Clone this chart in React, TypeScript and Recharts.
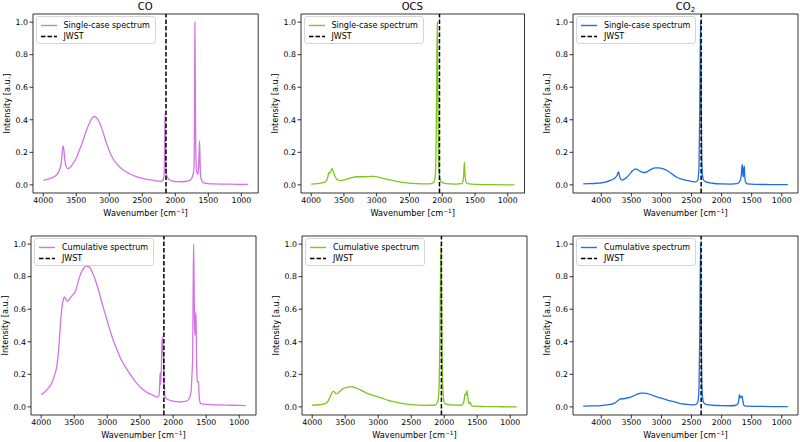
import React from 'react';
import { LineChart, Line, XAxis, YAxis, ReferenceLine, ReferenceArea, Label } from 'recharts';

const FONT = '"DejaVu Sans", sans-serif';

// wavenumber ticks and intensity ticks
const xTicks = [4000, 3500, 3000, 2500, 2000, 1500, 1000];
const yTicks = [0, 0.2, 0.4, 0.6, 0.8, 1.0];

// JWST band positions [cm-1]
const jwstCO = 2141;
const jwstOCS = 2042;
const jwstCO2 = 2340;

// CO single-case
const coSingleX = [4000, 3900, 3800, 3760, 3730, 3712, 3700, 3690, 3675, 3655, 3630, 3600, 3550, 3500, 3450, 3400, 3350, 3300, 3260, 3230, 3200, 3150, 3100, 3050, 3000, 2950, 2900, 2800, 2700, 2600, 2500, 2400, 2300, 2220, 2185, 2170, 2162, 2155, 2148, 2138, 2120, 2100, 2050, 2000, 1900, 1800, 1760, 1735, 1720, 1712, 1707, 1703, 1698, 1690, 1678, 1662, 1648, 1640, 1633, 1627, 1618, 1600, 1570, 1500, 1400, 1200, 1000, 900];
const coSingleY = [0.028, 0.038, 0.06, 0.085, 0.13, 0.2, 0.24, 0.225, 0.16, 0.115, 0.1, 0.105, 0.13, 0.165, 0.215, 0.27, 0.33, 0.38, 0.41, 0.42, 0.415, 0.385, 0.33, 0.265, 0.21, 0.165, 0.135, 0.095, 0.07, 0.052, 0.04, 0.032, 0.025, 0.022, 0.03, 0.06, 0.2, 0.44, 0.2, 0.07, 0.045, 0.035, 0.025, 0.02, 0.019, 0.024, 0.035, 0.06, 0.09, 0.25, 0.7, 1.0, 0.65, 0.2, 0.09, 0.065, 0.1, 0.2, 0.27, 0.18, 0.06, 0.025, 0.012, 0.008, 0.006, 0.004, 0.003, 0.003];

// CO cumulative
const coCumX = [4000, 3950, 3900, 3850, 3800, 3760, 3730, 3710, 3690, 3665, 3645, 3620, 3600, 3560, 3520, 3480, 3440, 3400, 3350, 3310, 3270, 3230, 3180, 3120, 3060, 3000, 2950, 2900, 2850, 2800, 2700, 2600, 2500, 2400, 2300, 2240, 2215, 2205, 2198, 2190, 2180, 2170, 2163, 2155, 2145, 2135, 2120, 2080, 2000, 1900, 1800, 1760, 1730, 1715, 1705, 1697, 1690, 1683, 1676, 1670, 1662, 1654, 1646, 1636, 1625, 1615, 1608, 1595, 1580, 1500, 1300, 1100, 900];
const coCumY = [0.075, 0.09, 0.11, 0.14, 0.19, 0.26, 0.38, 0.5, 0.6, 0.66, 0.675, 0.655, 0.65, 0.67, 0.69, 0.71, 0.77, 0.82, 0.855, 0.865, 0.86, 0.83, 0.78, 0.7, 0.61, 0.53, 0.46, 0.4, 0.35, 0.3, 0.23, 0.17, 0.12, 0.09, 0.07, 0.06, 0.07, 0.13, 0.21, 0.14, 0.22, 0.4, 0.43, 0.35, 0.28, 0.12, 0.06, 0.045, 0.035, 0.03, 0.035, 0.05, 0.09, 0.2, 0.3, 0.75, 1.0, 0.75, 0.5, 0.44, 0.52, 0.58, 0.3, 0.16, 0.15, 0.155, 0.07, 0.03, 0.02, 0.015, 0.012, 0.01, 0.008];

// OCS single-case
const ocsSingleX = [4000, 3900, 3800, 3760, 3740, 3733, 3722, 3712, 3695, 3680, 3665, 3645, 3620, 3590, 3560, 3500, 3400, 3300, 3200, 3100, 3050, 2950, 2800, 2700, 2600, 2400, 2200, 2130, 2105, 2092, 2083, 2075, 2067, 2058, 2045, 2020, 1950, 1800, 1700, 1680, 1670, 1662, 1655, 1645, 1625, 1550, 1400, 1200, 900];
const ocsSingleY = [0.005, 0.008, 0.015, 0.03, 0.06, 0.075, 0.07, 0.075, 0.09, 0.1, 0.085, 0.06, 0.04, 0.03, 0.026, 0.03, 0.042, 0.05, 0.05, 0.052, 0.052, 0.045, 0.03, 0.022, 0.015, 0.008, 0.006, 0.015, 0.06, 0.3, 0.75, 1.0, 0.6, 0.2, 0.06, 0.02, 0.008, 0.005, 0.008, 0.03, 0.08, 0.14, 0.08, 0.03, 0.01, 0.004, 0.002, 0.001, 0.0];

// OCS cumulative
const ocsCumX = [4000, 3900, 3800, 3760, 3730, 3705, 3680, 3660, 3640, 3620, 3600, 3570, 3530, 3480, 3430, 3380, 3330, 3250, 3150, 3050, 2950, 2850, 2750, 2600, 2450, 2300, 2150, 2100, 2080, 2066, 2056, 2048, 2040, 2030, 2015, 1990, 1900, 1750, 1710, 1695, 1684, 1672, 1662, 1653, 1644, 1632, 1618, 1608, 1598, 1585, 1550, 1400, 1200, 900];
const ocsCumY = [0.01, 0.013, 0.02, 0.035, 0.06, 0.085, 0.095, 0.09, 0.08, 0.082, 0.088, 0.1, 0.112, 0.12, 0.123, 0.122, 0.115, 0.1, 0.08, 0.068, 0.055, 0.04, 0.03, 0.018, 0.012, 0.009, 0.01, 0.03, 0.1, 0.4, 0.8, 1.0, 0.7, 0.3, 0.07, 0.02, 0.012, 0.01, 0.02, 0.05, 0.08, 0.07, 0.085, 0.1, 0.07, 0.03, 0.02, 0.028, 0.02, 0.008, 0.004, 0.002, 0.001, 0.0];

// CO2 single-case
const co2SingleX = [4300, 4200, 4070, 3950, 3850, 3790, 3760, 3735, 3722, 3713, 3700, 3680, 3655, 3620, 3573, 3530, 3490, 3460, 3435, 3400, 3352, 3310, 3270, 3220, 3158, 3100, 3048, 2980, 2910, 2830, 2743, 2660, 2577, 2490, 2430, 2395, 2375, 2362, 2350, 2340, 2330, 2318, 2300, 2260, 2150, 2000, 1850, 1740, 1700, 1675, 1663, 1655, 1646, 1638, 1630, 1622, 1614, 1600, 1570, 1450, 1200, 900];
const co2SingleY = [0.006, 0.007, 0.01, 0.015, 0.027, 0.038, 0.047, 0.06, 0.075, 0.08, 0.06, 0.035, 0.03, 0.035, 0.047, 0.064, 0.084, 0.093, 0.098, 0.094, 0.084, 0.077, 0.076, 0.085, 0.098, 0.104, 0.105, 0.1, 0.088, 0.068, 0.047, 0.035, 0.027, 0.02, 0.018, 0.03, 0.12, 0.5, 1.0, 0.55, 0.2, 0.06, 0.03, 0.018, 0.01, 0.006, 0.005, 0.008, 0.02, 0.05, 0.11, 0.125, 0.06, 0.05, 0.1, 0.115, 0.05, 0.015, 0.006, 0.003, 0.002, 0.001];

// CO2 cumulative
const co2CumX = [4300, 4150, 4000, 3900, 3800, 3750, 3700, 3665, 3640, 3600, 3550, 3500, 3450, 3400, 3360, 3330, 3290, 3250, 3180, 3100, 3000, 2900, 2800, 2700, 2600, 2500, 2430, 2395, 2375, 2362, 2350, 2340, 2330, 2318, 2300, 2260, 2150, 2000, 1850, 1760, 1730, 1715, 1703, 1695, 1688, 1680, 1670, 1660, 1652, 1643, 1633, 1615, 1580, 1400, 1150, 900];
const co2CumY = [0.005, 0.006, 0.008, 0.012, 0.02, 0.03, 0.045, 0.05, 0.05, 0.052, 0.056, 0.062, 0.07, 0.078, 0.083, 0.085, 0.085, 0.083, 0.075, 0.065, 0.053, 0.042, 0.032, 0.022, 0.016, 0.012, 0.014, 0.03, 0.12, 0.5, 1.0, 0.55, 0.2, 0.06, 0.028, 0.015, 0.01, 0.008, 0.007, 0.01, 0.02, 0.04, 0.075, 0.06, 0.055, 0.062, 0.06, 0.068, 0.05, 0.03, 0.012, 0.006, 0.004, 0.003, 0.002, 0.001];

const MAGENTA = '#d473e6';
const GREEN = '#80c41c';
const BLUE = '#1f6fdc';

type Pt = { w: number; v: number };
const zip = (xs: number[], ys: number[]): Pt[] => xs.map((w, i) => ({ w, v: ys[i] }));

const YW = 32;
const MT = 14;
const XH = 28;
const MR = 2;

const tickTxt = { fontSize: 7.8, fill: '#000', fontFamily: FONT };
const labTxt = { fontSize: 8.2, fill: '#000', fontFamily: FONT };

// x label with a real superscript, like matplotlib mathtext
function WaveLabel(props: any) {
  const vb = props.viewBox || { x: 0, y: 0, width: 0, height: 0 };
  const cx = vb.x + vb.width / 2;
  const y = vb.y + vb.height - 5;
  return (
    <text x={cx} y={y} textAnchor="middle" style={labTxt}>
      Wavenumber [cm
      <tspan dy={-3.3} fontSize={5.8}>−1</tspan>
      <tspan dy={3.3}>]</tspan>
    </text>
  );
}

type PanelProps = {
  l: number;
  r: number;
  t: number;
  b: number;
  title?: React.ReactNode;
  label: string;
  color: string;
  data: Pt[];
  jwst: number;
  xDomain: [number, number];
};

function Panel({ l, r, t, b, title, label, color, data, jwst, xDomain }: PanelProps) {
  const pw = r - l;
  const ph = b - t;
  return (
    <>
      {title && (
        <div
          style={{
            position: 'absolute',
            left: l,
            width: pw,
            top: t - 14,
            height: 14,
            lineHeight: '14px',
            textAlign: 'center',
            fontFamily: FONT,
            fontSize: 10,
            color: '#000',
          }}
        >
          {title}
        </div>
      )}
      <div style={{ position: 'absolute', left: l - YW, top: t - MT }}>
        <LineChart
          width={YW + pw + MR}
          height={MT + ph + XH}
          data={data}
          margin={{ top: MT, right: MR, bottom: 0, left: 0 }}
        >
          <XAxis
            type="number"
            dataKey="w"
            domain={xDomain}
            reversed
            allowDataOverflow
            ticks={xTicks}
            interval={0}
            axisLine={false}
            tickLine={{ stroke: '#000', strokeWidth: 0.8 }}
            tickSize={3.5}
            tickMargin={1}
            tick={tickTxt}
            height={XH}
          >
            <Label content={WaveLabel} />
          </XAxis>
          <YAxis
            type="number"
            domain={[-0.05, 1.05]}
            allowDataOverflow
            ticks={yTicks}
            interval={0}
            tickFormatter={(v: number) => v.toFixed(1)}
            axisLine={false}
            tickLine={{ stroke: '#000', strokeWidth: 0.8 }}
            tickSize={3.5}
            tickMargin={1.5}
            tick={tickTxt}
            width={YW}
            label={{
              value: 'Intensity [a.u.]',
              angle: -90,
              position: 'insideLeft',
              offset: 6,
              style: { ...labTxt, textAnchor: 'middle' },
            }}
          />
          <Line
            type="monotone"
            dataKey="v"
            stroke={color}
            strokeWidth={1.3}
            dot={false}
            isAnimationActive={false}
          />
          <ReferenceLine x={jwst} stroke="#000" strokeWidth={1.5} strokeDasharray="4.5 2" />
          <ReferenceArea
            x1={xDomain[0]}
            x2={xDomain[1]}
            y1={-0.05}
            y2={1.05}
            fill="none"
            stroke="#000"
            strokeWidth={0.8}
            ifOverflow="visible"
          />
        </LineChart>
      </div>
      <div
        style={{
          position: 'absolute',
          left: l + 3,
          top: t + 2,
          border: '1px solid #d6d6d6',
          borderRadius: 3,
          background: 'rgba(255,255,255,0.85)',
          padding: '3px 5px 1px 4px',
          fontFamily: FONT,
          fontSize: 8,
          color: '#000',
        }}
      >
        {[
          { name: label, stroke: color, dash: undefined as string | undefined },
          { name: 'JWST', stroke: '#000', dash: '4.5 2' },
        ].map((it) => (
          <div key={it.name} style={{ display: 'flex', alignItems: 'center', height: 11 }}>
            <svg width={16} height={11} style={{ marginRight: 7 }}>
              <line x1={0} x2={16} y1={5.5} y2={5.5} stroke={it.stroke} strokeWidth={1.4} strokeDasharray={it.dash} />
            </svg>
            <span style={{ whiteSpace: 'nowrap', lineHeight: '11px' }}>{it.name}</span>
          </div>
        ))}
      </div>
    </>
  );
}

const domStd: [number, number] = [745, 4155];
const domCO2: [number, number] = [730, 4470];

const co2Title = (
  <span>
    CO<sub style={{ fontSize: 7, verticalAlign: -2, lineHeight: 0 }}>2</sub>
  </span>
);

export default function App() {
  return (
    <div style={{ position: 'absolute', left: 0, top: 0, width: 800, height: 442, background: '#fff' }}>
      <Panel l={32.5} r={257.7} t={14} b={193} title="CO" label="Single-case spectrum" color={MAGENTA} data={zip(coSingleX, coSingleY)} jwst={jwstCO} xDomain={domStd} />
      <Panel l={300.5} r={524} t={14} b={193} title="OCS" label="Single-case spectrum" color={GREEN} data={zip(ocsSingleX, ocsSingleY)} jwst={jwstOCS} xDomain={domStd} />
      <Panel l={573} r={798} t={14} b={193} title={co2Title} label="Single-case spectrum" color={BLUE} data={zip(co2SingleX, co2SingleY)} jwst={jwstCO2} xDomain={domCO2} />
      <Panel l={31} r={256} t={236} b={415} label="Cumulative spectrum" color={MAGENTA} data={zip(coCumX, coCumY)} jwst={jwstCO} xDomain={domStd} />
      <Panel l={302} r={527} t={236} b={415} label="Cumulative spectrum" color={GREEN} data={zip(ocsCumX, ocsCumY)} jwst={jwstOCS} xDomain={domStd} />
      <Panel l={573} r={798} t={236} b={415} label="Cumulative spectrum" color={BLUE} data={zip(co2CumX, co2CumY)} jwst={jwstCO2} xDomain={domCO2} />
    </div>
  );
}
